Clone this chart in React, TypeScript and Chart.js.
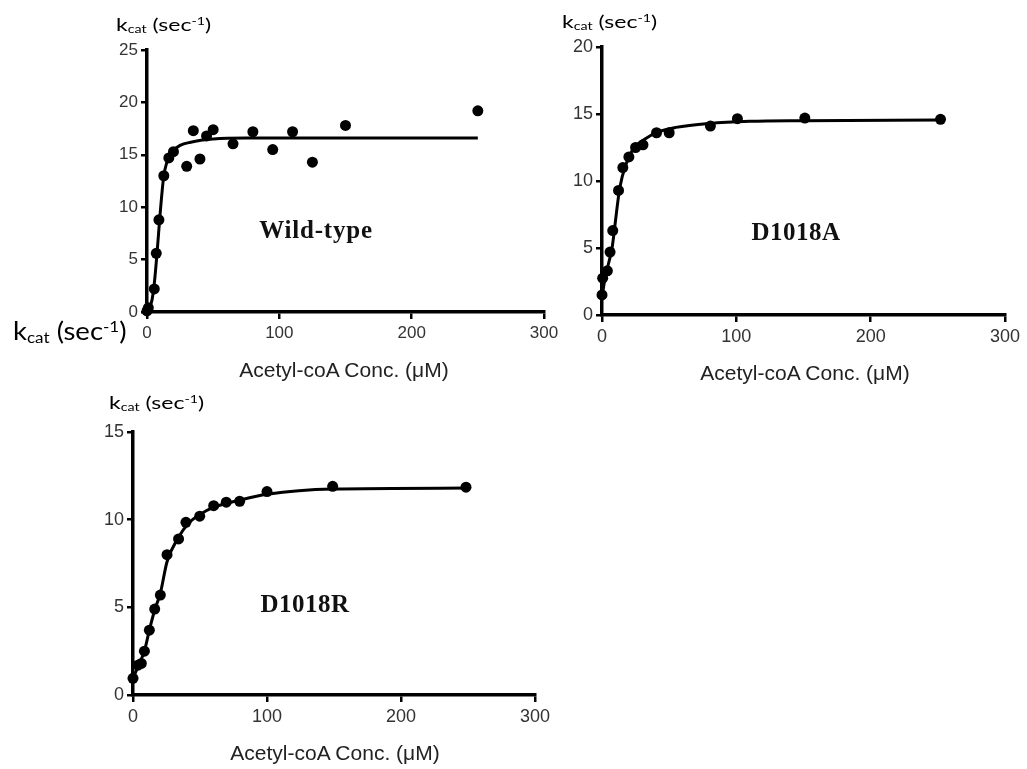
import React, { useEffect, useRef } from "react";
import { Chart, registerables } from "chart.js";

Chart.register(...registerables);

// ---- Data ----
const wtConc = [0, 1, 5.5, 7, 9, 12.7, 16.5, 20, 30, 35, 40, 45, 50, 65, 80, 95, 110, 125, 150, 250];
const wtKcat = [0.1, 0.4, 2.2, 5.6, 8.8, 13.0, 14.7, 15.3, 13.9, 17.3, 14.6, 16.8, 17.4, 16.05, 17.2, 15.5, 17.2, 14.3, 17.8, 19.2];
const wtFitConc = [0, 2.5, 5, 7.5, 10, 12.5, 15, 20, 25, 33, 50, 75, 100, 150, 250];
const wtFitKcat = [0, 0.5, 2.1, 5.5, 9.5, 12.8, 14.3, 15.4, 15.9, 16.2, 16.5, 16.6, 16.6, 16.6, 16.6];

const aConc = [0, 0.5, 4, 6, 8, 12.3, 15.5, 20, 25, 30.5, 40.6, 50, 80.7, 100.8, 151, 252];
const aKcat = [1.5, 2.75, 3.3, 4.7, 6.3, 9.3, 11.0, 11.8, 12.5, 12.7, 13.6, 13.6, 14.1, 14.65, 14.7, 14.6];
const aFitConc = [0, 2.5, 5, 7.5, 10, 12.5, 15, 20, 25, 30, 40, 55, 80, 110, 150, 250];
const aFitKcat = [1.3, 2.9, 3.9, 5.0, 7.0, 9.0, 10.3, 11.8, 12.6, 13.0, 13.6, 14.0, 14.3, 14.45, 14.5, 14.55];

const rConc = [0, 3.7, 6.2, 8.5, 12.2, 16.2, 20.4, 25.4, 34, 39.5, 49.8, 60.2, 69.6, 79.6, 100, 149, 248.5];
const rKcat = [0.95, 1.7, 1.8, 2.5, 3.7, 4.9, 5.7, 8.0, 8.9, 9.85, 10.2, 10.8, 11.0, 11.05, 11.6, 11.9, 11.85];
const rFitConc = [0, 4.2, 8.5, 12.2, 16.2, 20.4, 25.4, 34, 41.5, 50, 60, 79, 100, 149, 250];
const rFitKcat = [0.95, 1.7, 2.5, 3.7, 4.85, 5.8, 7.6, 9.0, 9.8, 10.3, 10.7, 11.1, 11.45, 11.75, 11.8];

const xTicks = [0, 100, 200, 300];
const wtYMax = 25;
const aYMax = 20;
const rYMax = 15;
const yStep = 5;

const xTitle = "Acetyl-coA Conc. (μM)";
const panelNames = ["Wild-type", "D1018A", "D1018R"];

const toPts = (xs: number[], ys: number[]) => xs.map((x, i) => ({ x, y: ys[i] }));

type PanelProps = {
  left: number;
  top: number;
  width: number;
  height: number;
  padRight: number;
  padTop: number;
  yMax: number;
  conc: number[];
  kcat: number[];
  fitConc: number[];
  fitKcat: number[];
  tickSize: number;
};

function Panel(p: PanelProps) {
  const ref = useRef<HTMLCanvasElement | null>(null);
  useEffect(() => {
    if (!ref.current) return;
    const chart = new Chart(ref.current, {
      type: "scatter",
      data: {
        datasets: [
          {
            data: toPts(p.fitConc, p.fitKcat),
            showLine: true,
            borderColor: "#000",
            borderWidth: 3,
            pointRadius: 0,
            cubicInterpolationMode: "monotone",
            clip: false,
          } as any,
          {
            data: toPts(p.conc, p.kcat),
            showLine: false,
            pointRadius: 5.5,
            pointBackgroundColor: "#000",
            pointBorderColor: "#000",
            pointBorderWidth: 0,
            clip: false,
          } as any,
        ],
      },
      options: {
        responsive: false,
        animation: false,
        events: [],
        layout: { padding: { top: p.padTop, right: p.padRight, left: 0, bottom: 0 } },
        plugins: { legend: { display: false }, tooltip: { enabled: false } },
        scales: {
          x: {
            type: "linear",
            min: 0,
            max: 300,
            afterBuildTicks: (s: any) => {
              s.ticks = xTicks.map((v) => ({ value: v }));
            },
            afterFit: (s: any) => {
              s.height = 48;
            },
            grid: {
              display: true,
              drawOnChartArea: false,
              drawTicks: true,
              tickLength: 7,
              color: "#000",
              lineWidth: 2.5,
            },
            border: { display: true, color: "#000", width: 3.5 },
            ticks: {
              color: "#333",
              padding: 4,
              maxRotation: 0,
              font: { family: "'Liberation Sans', Arial", size: p.tickSize },
            },
          },
          y: {
            type: "linear",
            min: 0,
            max: p.yMax,
            ticks: {
              stepSize: yStep,
              color: "#333",
              padding: 3,
              font: { family: "'Liberation Sans', Arial", size: p.tickSize },
            },
            afterFit: (s: any) => {
              s.width = 60;
            },
            grid: {
              display: true,
              drawOnChartArea: false,
              drawTicks: true,
              tickLength: 6,
              color: "#000",
              lineWidth: 2.5,
            },
            border: { display: true, color: "#000", width: 3.5 },
          },
        },
      },
    });
    return () => chart.destroy();
  }, []);
  return (
    <canvas
      ref={ref}
      width={p.width}
      height={p.height}
      style={{ position: "absolute", left: p.left, top: p.top, width: p.width, height: p.height }}
    />
  );
}

function Kcat(props: { left: number; top: number; size: number; sx: number }) {
  return (
    <div
      style={{
        position: "absolute",
        left: props.left,
        top: props.top,
        fontFamily: "Lato, 'Open Sans', sans-serif",
        fontSize: props.size,
        lineHeight: 1,
        whiteSpace: "nowrap",
        color: "#000",
        transform: `scaleX(${props.sx})`,
        transformOrigin: "left top",
      }}
    >
      k<span style={{ fontSize: "0.62em", verticalAlign: "-0.2em" }}>cat</span> (sec
      <span style={{ fontSize: "0.62em", verticalAlign: "0.5em" }}>-1</span>)
    </div>
  );
}

function XTitle(props: { cx: number; cy: number }) {
  return (
    <div
      style={{
        position: "absolute",
        left: props.cx - 150,
        top: props.cy - 12,
        width: 300,
        textAlign: "center",
        fontFamily: "'Liberation Sans', Arial, sans-serif",
        fontSize: 21,
        lineHeight: "24px",
        color: "#222",
        whiteSpace: "nowrap",
      }}
    >
      {xTitle}
    </div>
  );
}

function Label(props: { cx: number; cy: number; text: string; spacing: number }) {
  return (
    <div
      style={{
        position: "absolute",
        left: props.cx - 100,
        top: props.cy - 15,
        width: 200,
        textAlign: "center",
        fontFamily: "'Liberation Serif', 'Times New Roman', serif",
        fontWeight: "bold",
        fontSize: 25,
        lineHeight: "30px",
        letterSpacing: props.spacing,
        color: "#111",
        whiteSpace: "nowrap",
      }}
    >
      {props.text}
    </div>
  );
}

export default function App() {
  return (
    <div
      style={{
        position: "fixed",
        left: 0,
        top: 0,
        width: 1027,
        height: 769,
        background: "#fff",
        overflow: "hidden",
      }}
    >
      <Panel
        left={87}
        top={30}
        width={478}
        height={330}
        padTop={20}
        padRight={21}
        yMax={wtYMax}
        conc={wtConc}
        kcat={wtKcat}
        fitConc={wtFitConc}
        fitKcat={wtFitKcat}
        tickSize={17}
      />
      <Panel
        left={542}
        top={27}
        width={485}
        height={336}
        padTop={20}
        padRight={22}
        yMax={aYMax}
        conc={aConc}
        kcat={aKcat}
        fitConc={aFitConc}
        fitKcat={aFitKcat}
        tickSize={18}
      />
      <Panel
        left={73}
        top={412}
        width={484}
        height={331}
        padTop={20}
        padRight={22}
        yMax={rYMax}
        conc={rConc}
        kcat={rKcat}
        fitConc={rFitConc}
        fitKcat={rFitKcat}
        tickSize={18}
      />
      <Kcat left={116} top={15} size={18} sx={1.28} />
      <Kcat left={562} top={12} size={18} sx={1.28} />
      <Kcat left={109} top={393} size={18} sx={1.28} />
      <Kcat left={13} top={318} size={25} sx={1.1} />
      <XTitle cx={344} cy={370} />
      <XTitle cx={805} cy={373} />
      <XTitle cx={335} cy={753} />
      <Label cx={316} cy={230} text={panelNames[0]} spacing={0.8} />
      <Label cx={796} cy={232} text={panelNames[1]} spacing={0.5} />
      <Label cx={305} cy={604} text={panelNames[2]} spacing={0.5} />
    </div>
  );
}
